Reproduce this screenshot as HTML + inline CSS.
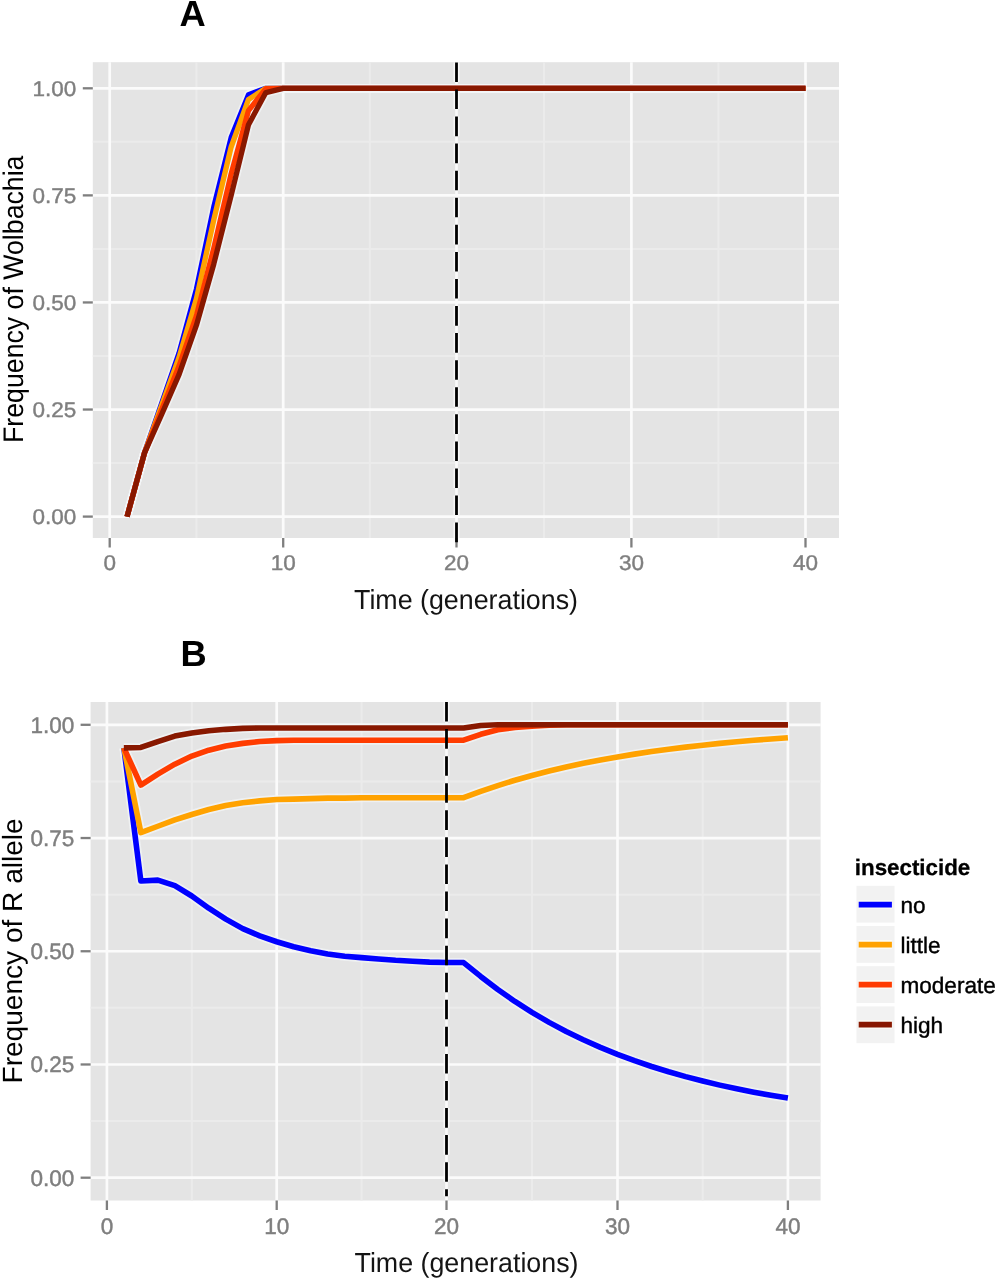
<!DOCTYPE html><html><head><meta charset="utf-8"><style>html,body{margin:0;padding:0;background:#fff;}svg{display:block;filter:blur(0.35px)} text{font-family:"Liberation Sans",sans-serif;text-rendering:geometricPrecision}</style></head><body>
<svg width="997" height="1278" viewBox="0 0 997 1278">
<rect width="997" height="1278" fill="#fff"/>
<rect x="92.8" y="62.2" width="746.20" height="475.80" fill="#e4e4e4"/>
<line x1="196.45" y1="62.2" x2="196.45" y2="538" stroke="#ebebeb" stroke-width="2"/>
<line x1="369.85" y1="62.2" x2="369.85" y2="538" stroke="#ebebeb" stroke-width="2"/>
<line x1="543.95" y1="62.2" x2="543.95" y2="538" stroke="#ebebeb" stroke-width="2"/>
<line x1="718.45" y1="62.2" x2="718.45" y2="538" stroke="#ebebeb" stroke-width="2"/>
<line x1="92.8" y1="463.06" x2="839" y2="463.06" stroke="#ebebeb" stroke-width="2"/>
<line x1="92.8" y1="355.99" x2="839" y2="355.99" stroke="#ebebeb" stroke-width="2"/>
<line x1="92.8" y1="248.91" x2="839" y2="248.91" stroke="#ebebeb" stroke-width="2"/>
<line x1="92.8" y1="141.84" x2="839" y2="141.84" stroke="#ebebeb" stroke-width="2"/>
<line x1="109.70" y1="62.2" x2="109.70" y2="538" stroke="#fbfbfb" stroke-width="2.7"/>
<line x1="283.20" y1="62.2" x2="283.20" y2="538" stroke="#fbfbfb" stroke-width="2.7"/>
<line x1="456.50" y1="62.2" x2="456.50" y2="538" stroke="#fbfbfb" stroke-width="2.7"/>
<line x1="631.40" y1="62.2" x2="631.40" y2="538" stroke="#fbfbfb" stroke-width="2.7"/>
<line x1="805.50" y1="62.2" x2="805.50" y2="538" stroke="#fbfbfb" stroke-width="2.7"/>
<line x1="92.8" y1="516.60" x2="839" y2="516.60" stroke="#fbfbfb" stroke-width="2.7"/>
<line x1="92.8" y1="409.53" x2="839" y2="409.53" stroke="#fbfbfb" stroke-width="2.7"/>
<line x1="92.8" y1="302.45" x2="839" y2="302.45" stroke="#fbfbfb" stroke-width="2.7"/>
<line x1="92.8" y1="195.38" x2="839" y2="195.38" stroke="#fbfbfb" stroke-width="2.7"/>
<line x1="92.8" y1="88.30" x2="839" y2="88.30" stroke="#fbfbfb" stroke-width="2.7"/>
<line x1="456.50" y1="62.4" x2="456.50" y2="542.2" stroke="#fcfcfc" stroke-opacity="0.8" stroke-width="6" stroke-dasharray="19.6 7.47"/>
<polyline points="127.05,516.60 144.40,453.21 161.75,403.10 179.10,352.99 196.45,289.17 213.80,206.94 231.15,137.55 248.50,94.72 265.85,88.30 283.20,88.30 300.53,88.30 317.86,88.30 335.19,88.30 352.52,88.30 369.85,88.30 387.18,88.30 404.51,88.30 421.84,88.30 439.17,88.30 456.50,88.30 473.99,88.30 491.48,88.30 508.97,88.30 526.46,88.30 543.95,88.30 561.44,88.30 578.93,88.30 596.42,88.30 613.91,88.30 631.40,88.30 648.81,88.30 666.22,88.30 683.63,88.30 701.04,88.30 718.45,88.30 735.86,88.30 753.27,88.30 770.68,88.30 788.09,88.30 805.50,88.30" fill="none" stroke="#f4f6f8" stroke-opacity="0.7" stroke-width="8.85" stroke-linejoin="round"/>
<polyline points="127.05,516.60 144.40,453.21 161.75,405.24 179.10,357.27 196.45,298.60 213.80,219.79 231.15,146.98 248.50,99.44 265.85,88.30 283.20,88.30 300.53,88.30 317.86,88.30 335.19,88.30 352.52,88.30 369.85,88.30 387.18,88.30 404.51,88.30 421.84,88.30 439.17,88.30 456.50,88.30 473.99,88.30 491.48,88.30 508.97,88.30 526.46,88.30 543.95,88.30 561.44,88.30 578.93,88.30 596.42,88.30 613.91,88.30 631.40,88.30 648.81,88.30 666.22,88.30 683.63,88.30 701.04,88.30 718.45,88.30 735.86,88.30 753.27,88.30 770.68,88.30 788.09,88.30 805.50,88.30" fill="none" stroke="#f4f6f8" stroke-opacity="0.7" stroke-width="8.85" stroke-linejoin="round"/>
<polyline points="127.05,516.60 144.40,453.21 161.75,409.53 179.10,365.84 196.45,315.73 213.80,248.06 231.15,173.96 248.50,110.57 265.85,88.73 283.20,88.30 300.53,88.30 317.86,88.30 335.19,88.30 352.52,88.30 369.85,88.30 387.18,88.30 404.51,88.30 421.84,88.30 439.17,88.30 456.50,88.30 473.99,88.30 491.48,88.30 508.97,88.30 526.46,88.30 543.95,88.30 561.44,88.30 578.93,88.30 596.42,88.30 613.91,88.30 631.40,88.30 648.81,88.30 666.22,88.30 683.63,88.30 701.04,88.30 718.45,88.30 735.86,88.30 753.27,88.30 770.68,88.30 788.09,88.30 805.50,88.30" fill="none" stroke="#f4f6f8" stroke-opacity="0.7" stroke-width="8.85" stroke-linejoin="round"/>
<polyline points="127.05,516.60 144.40,453.21 161.75,414.24 179.10,374.40 196.45,325.15 213.80,263.90 231.15,195.38 248.50,124.71 265.85,92.58 283.20,88.30 300.53,88.30 317.86,88.30 335.19,88.30 352.52,88.30 369.85,88.30 387.18,88.30 404.51,88.30 421.84,88.30 439.17,88.30 456.50,88.30 473.99,88.30 491.48,88.30 508.97,88.30 526.46,88.30 543.95,88.30 561.44,88.30 578.93,88.30 596.42,88.30 613.91,88.30 631.40,88.30 648.81,88.30 666.22,88.30 683.63,88.30 701.04,88.30 718.45,88.30 735.86,88.30 753.27,88.30 770.68,88.30 788.09,88.30 805.50,88.30" fill="none" stroke="#f4f6f8" stroke-opacity="0.7" stroke-width="8.85" stroke-linejoin="round"/>
<polyline points="127.05,516.60 144.40,453.21 161.75,403.10 179.10,352.99 196.45,289.17 213.80,206.94 231.15,137.55 248.50,94.72 265.85,88.30 283.20,88.30 300.53,88.30 317.86,88.30 335.19,88.30 352.52,88.30 369.85,88.30 387.18,88.30 404.51,88.30 421.84,88.30 439.17,88.30 456.50,88.30 473.99,88.30 491.48,88.30 508.97,88.30 526.46,88.30 543.95,88.30 561.44,88.30 578.93,88.30 596.42,88.30 613.91,88.30 631.40,88.30 648.81,88.30 666.22,88.30 683.63,88.30 701.04,88.30 718.45,88.30 735.86,88.30 753.27,88.30 770.68,88.30 788.09,88.30 805.50,88.30" fill="none" stroke="#0000FF" stroke-width="5.35" stroke-linejoin="round" stroke-linecap="butt"/>
<polyline points="127.05,516.60 144.40,453.21 161.75,405.24 179.10,357.27 196.45,298.60 213.80,219.79 231.15,146.98 248.50,99.44 265.85,88.30 283.20,88.30 300.53,88.30 317.86,88.30 335.19,88.30 352.52,88.30 369.85,88.30 387.18,88.30 404.51,88.30 421.84,88.30 439.17,88.30 456.50,88.30 473.99,88.30 491.48,88.30 508.97,88.30 526.46,88.30 543.95,88.30 561.44,88.30 578.93,88.30 596.42,88.30 613.91,88.30 631.40,88.30 648.81,88.30 666.22,88.30 683.63,88.30 701.04,88.30 718.45,88.30 735.86,88.30 753.27,88.30 770.68,88.30 788.09,88.30 805.50,88.30" fill="none" stroke="#FFA200" stroke-width="5.35" stroke-linejoin="round" stroke-linecap="butt"/>
<polyline points="127.05,516.60 144.40,453.21 161.75,409.53 179.10,365.84 196.45,315.73 213.80,248.06 231.15,173.96 248.50,110.57 265.85,88.73 283.20,88.30 300.53,88.30 317.86,88.30 335.19,88.30 352.52,88.30 369.85,88.30 387.18,88.30 404.51,88.30 421.84,88.30 439.17,88.30 456.50,88.30 473.99,88.30 491.48,88.30 508.97,88.30 526.46,88.30 543.95,88.30 561.44,88.30 578.93,88.30 596.42,88.30 613.91,88.30 631.40,88.30 648.81,88.30 666.22,88.30 683.63,88.30 701.04,88.30 718.45,88.30 735.86,88.30 753.27,88.30 770.68,88.30 788.09,88.30 805.50,88.30" fill="none" stroke="#FF3C00" stroke-width="5.35" stroke-linejoin="round" stroke-linecap="butt"/>
<polyline points="127.05,516.60 144.40,453.21 161.75,414.24 179.10,374.40 196.45,325.15 213.80,263.90 231.15,195.38 248.50,124.71 265.85,92.58 283.20,88.30 300.53,88.30 317.86,88.30 335.19,88.30 352.52,88.30 369.85,88.30 387.18,88.30 404.51,88.30 421.84,88.30 439.17,88.30 456.50,88.30 473.99,88.30 491.48,88.30 508.97,88.30 526.46,88.30 543.95,88.30 561.44,88.30 578.93,88.30 596.42,88.30 613.91,88.30 631.40,88.30 648.81,88.30 666.22,88.30 683.63,88.30 701.04,88.30 718.45,88.30 735.86,88.30 753.27,88.30 770.68,88.30 788.09,88.30 805.50,88.30" fill="none" stroke="#881800" stroke-width="5.35" stroke-linejoin="round" stroke-linecap="butt"/>
<line x1="82.8" y1="516.60" x2="92.8" y2="516.60" stroke="#7f7f7f" stroke-width="2.3"/>
<line x1="82.8" y1="409.53" x2="92.8" y2="409.53" stroke="#7f7f7f" stroke-width="2.3"/>
<line x1="82.8" y1="302.45" x2="92.8" y2="302.45" stroke="#7f7f7f" stroke-width="2.3"/>
<line x1="82.8" y1="195.38" x2="92.8" y2="195.38" stroke="#7f7f7f" stroke-width="2.3"/>
<line x1="82.8" y1="88.30" x2="92.8" y2="88.30" stroke="#7f7f7f" stroke-width="2.3"/>
<line x1="109.70" y1="538" x2="109.70" y2="547.5" stroke="#7f7f7f" stroke-width="2.3"/>
<line x1="283.20" y1="538" x2="283.20" y2="547.5" stroke="#7f7f7f" stroke-width="2.3"/>
<line x1="456.50" y1="538" x2="456.50" y2="547.5" stroke="#7f7f7f" stroke-width="2.3"/>
<line x1="631.40" y1="538" x2="631.40" y2="547.5" stroke="#7f7f7f" stroke-width="2.3"/>
<line x1="805.50" y1="538" x2="805.50" y2="547.5" stroke="#7f7f7f" stroke-width="2.3"/>
<rect x="90.6" y="702" width="730.00" height="498.50" fill="#e4e4e4"/>
<line x1="191.80" y1="702" x2="191.80" y2="1200.5" stroke="#ebebeb" stroke-width="2"/>
<line x1="361.60" y1="702" x2="361.60" y2="1200.5" stroke="#ebebeb" stroke-width="2"/>
<line x1="532.00" y1="702" x2="532.00" y2="1200.5" stroke="#ebebeb" stroke-width="2"/>
<line x1="702.70" y1="702" x2="702.70" y2="1200.5" stroke="#ebebeb" stroke-width="2"/>
<line x1="90.6" y1="1121.09" x2="820.6" y2="1121.09" stroke="#ebebeb" stroke-width="2"/>
<line x1="90.6" y1="1007.86" x2="820.6" y2="1007.86" stroke="#ebebeb" stroke-width="2"/>
<line x1="90.6" y1="894.64" x2="820.6" y2="894.64" stroke="#ebebeb" stroke-width="2"/>
<line x1="90.6" y1="781.41" x2="820.6" y2="781.41" stroke="#ebebeb" stroke-width="2"/>
<line x1="106.90" y1="702" x2="106.90" y2="1200.5" stroke="#fbfbfb" stroke-width="2.7"/>
<line x1="276.70" y1="702" x2="276.70" y2="1200.5" stroke="#fbfbfb" stroke-width="2.7"/>
<line x1="446.50" y1="702" x2="446.50" y2="1200.5" stroke="#fbfbfb" stroke-width="2.7"/>
<line x1="617.50" y1="702" x2="617.50" y2="1200.5" stroke="#fbfbfb" stroke-width="2.7"/>
<line x1="787.90" y1="702" x2="787.90" y2="1200.5" stroke="#fbfbfb" stroke-width="2.7"/>
<line x1="90.6" y1="1177.70" x2="820.6" y2="1177.70" stroke="#fbfbfb" stroke-width="2.7"/>
<line x1="90.6" y1="1064.48" x2="820.6" y2="1064.48" stroke="#fbfbfb" stroke-width="2.7"/>
<line x1="90.6" y1="951.25" x2="820.6" y2="951.25" stroke="#fbfbfb" stroke-width="2.7"/>
<line x1="90.6" y1="838.03" x2="820.6" y2="838.03" stroke="#fbfbfb" stroke-width="2.7"/>
<line x1="90.6" y1="724.80" x2="820.6" y2="724.80" stroke="#fbfbfb" stroke-width="2.7"/>
<line x1="446.50" y1="702.0" x2="446.50" y2="1196.2" stroke="#fcfcfc" stroke-opacity="0.8" stroke-width="6" stroke-dasharray="19.6 7.47"/>
<polyline points="123.88,747.90 140.86,881.05 157.84,880.14 174.82,885.58 191.80,896.00 208.78,908.22 225.76,919.09 242.74,928.61 259.72,935.85 276.70,941.74 293.68,946.72 310.66,950.80 327.64,953.97 344.62,956.23 361.60,957.59 378.58,958.95 395.56,960.31 412.54,961.21 429.52,962.12 446.50,962.57 463.60,962.57 480.70,976.43 497.80,989.51 514.90,1001.46 532.00,1012.37 549.10,1022.35 566.20,1031.46 583.30,1039.78 600.40,1047.39 617.50,1054.34 634.54,1060.69 651.58,1066.49 668.62,1071.79 685.66,1076.63 702.70,1081.06 719.74,1085.10 736.78,1088.80 753.82,1092.17 770.86,1095.25 787.90,1098.07" fill="none" stroke="#f4f6f8" stroke-opacity="0.7" stroke-width="9.1" stroke-linejoin="round"/>
<polyline points="123.88,747.90 140.86,832.59 157.84,826.25 174.82,819.91 191.80,814.47 208.78,809.49 225.76,805.42 242.74,802.70 259.72,800.89 276.70,799.53 293.68,799.08 310.66,798.62 327.64,798.17 344.62,798.17 361.60,797.72 378.58,797.72 395.56,797.72 412.54,797.72 429.52,797.72 446.50,797.72 463.60,797.72 480.70,791.37 497.80,785.57 514.90,780.28 532.00,775.45 549.10,771.04 566.20,767.01 583.30,763.34 600.40,759.98 617.50,756.92 634.54,754.12 651.58,751.57 668.62,749.24 685.66,747.11 702.70,745.17 719.74,743.39 736.78,741.77 753.82,740.30 770.86,738.95 787.90,737.72" fill="none" stroke="#f4f6f8" stroke-opacity="0.7" stroke-width="9.1" stroke-linejoin="round"/>
<polyline points="123.88,747.90 140.86,785.04 157.84,774.17 174.82,764.20 191.80,756.05 208.78,750.16 225.76,746.09 242.74,743.37 259.72,741.56 276.70,740.65 293.68,740.20 310.66,740.20 327.64,740.20 344.62,740.20 361.60,740.20 378.58,740.20 395.56,740.20 412.54,740.20 429.52,740.20 446.50,740.20 463.60,740.20 480.70,734.31 497.80,729.78 514.90,727.52 532.00,726.16 549.10,725.25 566.20,724.80 583.30,724.80 600.40,724.80 617.50,724.80 634.54,724.80 651.58,724.80 668.62,724.80 685.66,724.80 702.70,724.80 719.74,724.80 736.78,724.80 753.82,724.80 770.86,724.80 787.90,724.80" fill="none" stroke="#f4f6f8" stroke-opacity="0.7" stroke-width="9.1" stroke-linejoin="round"/>
<polyline points="123.88,747.90 140.86,747.45 157.84,741.56 174.82,736.12 191.80,732.95 208.78,730.69 225.76,729.33 242.74,728.42 259.72,727.97 276.70,727.97 293.68,727.97 310.66,727.97 327.64,727.97 344.62,727.97 361.60,727.97 378.58,727.97 395.56,727.97 412.54,727.97 429.52,727.97 446.50,727.97 463.60,727.97 480.70,725.48 497.80,724.80 514.90,724.80 532.00,724.80 549.10,724.80 566.20,724.80 583.30,724.80 600.40,724.80 617.50,724.80 634.54,724.80 651.58,724.80 668.62,724.80 685.66,724.80 702.70,724.80 719.74,724.80 736.78,724.80 753.82,724.80 770.86,724.80 787.90,724.80" fill="none" stroke="#f4f6f8" stroke-opacity="0.7" stroke-width="9.1" stroke-linejoin="round"/>
<polyline points="123.88,747.90 140.86,881.05 157.84,880.14 174.82,885.58 191.80,896.00 208.78,908.22 225.76,919.09 242.74,928.61 259.72,935.85 276.70,941.74 293.68,946.72 310.66,950.80 327.64,953.97 344.62,956.23 361.60,957.59 378.58,958.95 395.56,960.31 412.54,961.21 429.52,962.12 446.50,962.57 463.60,962.57 480.70,976.43 497.80,989.51 514.90,1001.46 532.00,1012.37 549.10,1022.35 566.20,1031.46 583.30,1039.78 600.40,1047.39 617.50,1054.34 634.54,1060.69 651.58,1066.49 668.62,1071.79 685.66,1076.63 702.70,1081.06 719.74,1085.10 736.78,1088.80 753.82,1092.17 770.86,1095.25 787.90,1098.07" fill="none" stroke="#0000FF" stroke-width="5.6" stroke-linejoin="round" stroke-linecap="butt"/>
<polyline points="123.88,747.90 140.86,832.59 157.84,826.25 174.82,819.91 191.80,814.47 208.78,809.49 225.76,805.42 242.74,802.70 259.72,800.89 276.70,799.53 293.68,799.08 310.66,798.62 327.64,798.17 344.62,798.17 361.60,797.72 378.58,797.72 395.56,797.72 412.54,797.72 429.52,797.72 446.50,797.72 463.60,797.72 480.70,791.37 497.80,785.57 514.90,780.28 532.00,775.45 549.10,771.04 566.20,767.01 583.30,763.34 600.40,759.98 617.50,756.92 634.54,754.12 651.58,751.57 668.62,749.24 685.66,747.11 702.70,745.17 719.74,743.39 736.78,741.77 753.82,740.30 770.86,738.95 787.90,737.72" fill="none" stroke="#FFA200" stroke-width="5.6" stroke-linejoin="round" stroke-linecap="butt"/>
<polyline points="123.88,747.90 140.86,785.04 157.84,774.17 174.82,764.20 191.80,756.05 208.78,750.16 225.76,746.09 242.74,743.37 259.72,741.56 276.70,740.65 293.68,740.20 310.66,740.20 327.64,740.20 344.62,740.20 361.60,740.20 378.58,740.20 395.56,740.20 412.54,740.20 429.52,740.20 446.50,740.20 463.60,740.20 480.70,734.31 497.80,729.78 514.90,727.52 532.00,726.16 549.10,725.25 566.20,724.80 583.30,724.80 600.40,724.80 617.50,724.80 634.54,724.80 651.58,724.80 668.62,724.80 685.66,724.80 702.70,724.80 719.74,724.80 736.78,724.80 753.82,724.80 770.86,724.80 787.90,724.80" fill="none" stroke="#FF3C00" stroke-width="5.6" stroke-linejoin="round" stroke-linecap="butt"/>
<polyline points="123.88,747.90 140.86,747.45 157.84,741.56 174.82,736.12 191.80,732.95 208.78,730.69 225.76,729.33 242.74,728.42 259.72,727.97 276.70,727.97 293.68,727.97 310.66,727.97 327.64,727.97 344.62,727.97 361.60,727.97 378.58,727.97 395.56,727.97 412.54,727.97 429.52,727.97 446.50,727.97 463.60,727.97 480.70,725.48 497.80,724.80 514.90,724.80 532.00,724.80 549.10,724.80 566.20,724.80 583.30,724.80 600.40,724.80 617.50,724.80 634.54,724.80 651.58,724.80 668.62,724.80 685.66,724.80 702.70,724.80 719.74,724.80 736.78,724.80 753.82,724.80 770.86,724.80 787.90,724.80" fill="none" stroke="#881800" stroke-width="5.6" stroke-linejoin="round" stroke-linecap="butt"/>
<line x1="80.6" y1="1177.70" x2="90.6" y2="1177.70" stroke="#7f7f7f" stroke-width="2.3"/>
<line x1="80.6" y1="1064.48" x2="90.6" y2="1064.48" stroke="#7f7f7f" stroke-width="2.3"/>
<line x1="80.6" y1="951.25" x2="90.6" y2="951.25" stroke="#7f7f7f" stroke-width="2.3"/>
<line x1="80.6" y1="838.03" x2="90.6" y2="838.03" stroke="#7f7f7f" stroke-width="2.3"/>
<line x1="80.6" y1="724.80" x2="90.6" y2="724.80" stroke="#7f7f7f" stroke-width="2.3"/>
<line x1="106.90" y1="1200.5" x2="106.90" y2="1210.0" stroke="#7f7f7f" stroke-width="2.3"/>
<line x1="276.70" y1="1200.5" x2="276.70" y2="1210.0" stroke="#7f7f7f" stroke-width="2.3"/>
<line x1="446.50" y1="1200.5" x2="446.50" y2="1210.0" stroke="#7f7f7f" stroke-width="2.3"/>
<line x1="617.50" y1="1200.5" x2="617.50" y2="1210.0" stroke="#7f7f7f" stroke-width="2.3"/>
<line x1="787.90" y1="1200.5" x2="787.90" y2="1210.0" stroke="#7f7f7f" stroke-width="2.3"/>
<line x1="456.50" y1="62.4" x2="456.50" y2="542.2" stroke="#000" stroke-width="2.8" stroke-dasharray="19.6 7.47"/>
<line x1="446.50" y1="702.0" x2="446.50" y2="1196.2" stroke="#000" stroke-width="2.8" stroke-dasharray="19.6 7.47"/>
<text transform="translate(76.20,524.16) scale(1,0.946)" font-size="22.5" fill="#7f7f7f" stroke="#7f7f7f" stroke-width="0.45" text-anchor="end">0.00</text>
<text transform="translate(76.20,417.08) scale(1,0.946)" font-size="22.5" fill="#7f7f7f" stroke="#7f7f7f" stroke-width="0.45" text-anchor="end">0.25</text>
<text transform="translate(76.20,310.01) scale(1,0.946)" font-size="22.5" fill="#7f7f7f" stroke="#7f7f7f" stroke-width="0.45" text-anchor="end">0.50</text>
<text transform="translate(76.20,202.93) scale(1,0.946)" font-size="22.5" fill="#7f7f7f" stroke="#7f7f7f" stroke-width="0.45" text-anchor="end">0.75</text>
<text transform="translate(76.20,95.86) scale(1,0.946)" font-size="22.5" fill="#7f7f7f" stroke="#7f7f7f" stroke-width="0.45" text-anchor="end">1.00</text>
<text transform="translate(109.70,570.00) scale(1,0.946)" font-size="22.5" fill="#7f7f7f" stroke="#7f7f7f" stroke-width="0.45" text-anchor="middle">0</text>
<text transform="translate(283.20,570.00) scale(1,0.946)" font-size="22.5" fill="#7f7f7f" stroke="#7f7f7f" stroke-width="0.45" text-anchor="middle">10</text>
<text transform="translate(456.50,570.00) scale(1,0.946)" font-size="22.5" fill="#7f7f7f" stroke="#7f7f7f" stroke-width="0.45" text-anchor="middle">20</text>
<text transform="translate(631.40,570.00) scale(1,0.946)" font-size="22.5" fill="#7f7f7f" stroke="#7f7f7f" stroke-width="0.45" text-anchor="middle">30</text>
<text transform="translate(805.50,570.00) scale(1,0.946)" font-size="22.5" fill="#7f7f7f" stroke="#7f7f7f" stroke-width="0.45" text-anchor="middle">40</text>
<text transform="translate(74.30,1185.69) scale(1,1.0)" font-size="22.5" fill="#7f7f7f" stroke="#7f7f7f" stroke-width="0.45" text-anchor="end">0.00</text>
<text transform="translate(74.30,1072.46) scale(1,1.0)" font-size="22.5" fill="#7f7f7f" stroke="#7f7f7f" stroke-width="0.45" text-anchor="end">0.25</text>
<text transform="translate(74.30,959.24) scale(1,1.0)" font-size="22.5" fill="#7f7f7f" stroke="#7f7f7f" stroke-width="0.45" text-anchor="end">0.50</text>
<text transform="translate(74.30,846.01) scale(1,1.0)" font-size="22.5" fill="#7f7f7f" stroke="#7f7f7f" stroke-width="0.45" text-anchor="end">0.75</text>
<text transform="translate(74.30,732.79) scale(1,1.0)" font-size="22.5" fill="#7f7f7f" stroke="#7f7f7f" stroke-width="0.45" text-anchor="end">1.00</text>
<text transform="translate(106.90,1234.00) scale(1,1.0)" font-size="22.5" fill="#7f7f7f" stroke="#7f7f7f" stroke-width="0.45" text-anchor="middle">0</text>
<text transform="translate(276.70,1234.00) scale(1,1.0)" font-size="22.5" fill="#7f7f7f" stroke="#7f7f7f" stroke-width="0.45" text-anchor="middle">10</text>
<text transform="translate(446.50,1234.00) scale(1,1.0)" font-size="22.5" fill="#7f7f7f" stroke="#7f7f7f" stroke-width="0.45" text-anchor="middle">20</text>
<text transform="translate(617.50,1234.00) scale(1,1.0)" font-size="22.5" fill="#7f7f7f" stroke="#7f7f7f" stroke-width="0.45" text-anchor="middle">30</text>
<text transform="translate(787.90,1234.00) scale(1,1.0)" font-size="22.5" fill="#7f7f7f" stroke="#7f7f7f" stroke-width="0.45" text-anchor="middle">40</text>
<text transform="translate(23.3,299.25) rotate(-90) scale(0.9436,1)" font-size="28.3" text-anchor="middle">Frequency of Wolbachia</text>
<text transform="translate(22.4,950.9) rotate(-90) scale(1.0097,1)" font-size="27.8" text-anchor="middle">Frequency of R allele</text>
<text transform="translate(466.0,608.6) scale(0.975,1)" font-size="27.5" fill="#141414" text-anchor="middle">Time (generations)</text>
<text transform="translate(466.5,1271.9) scale(0.975,1)" font-size="27.5" fill="#141414" text-anchor="middle">Time (generations)</text>
<text x="179.6" y="26.3" font-size="36.3" font-weight="bold">A</text>
<text x="180.4" y="666.1" font-size="36.3" font-weight="bold">B</text>
<text x="854.8" y="874.6" font-size="22.35" font-weight="bold" stroke="#000" stroke-width="0.3">insecticide</text>
<rect x="856.5" y="885.80" width="38" height="36.8" fill="#f2f2f2"/>
<line x1="858.7" y1="904.60" x2="891.9" y2="904.60" stroke="#fbfbf4" stroke-width="9"/>
<line x1="858.7" y1="904.60" x2="891.9" y2="904.60" stroke="#0000FF" stroke-width="5.7"/>
<text x="900.4" y="912.80" font-size="22.6" stroke="#000" stroke-width="0.4">no</text>
<rect x="856.5" y="926.00" width="38" height="36.8" fill="#f2f2f2"/>
<line x1="858.7" y1="944.60" x2="891.9" y2="944.60" stroke="#fbfbf4" stroke-width="9"/>
<line x1="858.7" y1="944.60" x2="891.9" y2="944.60" stroke="#FFA200" stroke-width="5.7"/>
<text x="900.4" y="952.80" font-size="22.6" stroke="#000" stroke-width="0.4">little</text>
<rect x="856.5" y="966.20" width="38" height="36.8" fill="#f2f2f2"/>
<line x1="858.7" y1="984.60" x2="891.9" y2="984.60" stroke="#fbfbf4" stroke-width="9"/>
<line x1="858.7" y1="984.60" x2="891.9" y2="984.60" stroke="#FF3C00" stroke-width="5.7"/>
<text x="900.4" y="992.80" font-size="22.6" stroke="#000" stroke-width="0.4">moderate</text>
<rect x="856.5" y="1006.40" width="38" height="36.8" fill="#f2f2f2"/>
<line x1="858.7" y1="1024.60" x2="891.9" y2="1024.60" stroke="#fbfbf4" stroke-width="9"/>
<line x1="858.7" y1="1024.60" x2="891.9" y2="1024.60" stroke="#881800" stroke-width="5.7"/>
<text x="900.4" y="1032.80" font-size="22.6" stroke="#000" stroke-width="0.4">high</text>
</svg></body></html>
